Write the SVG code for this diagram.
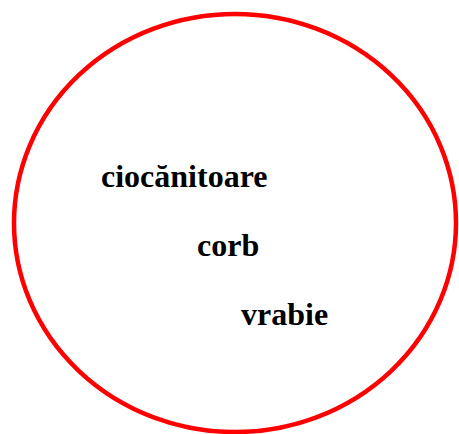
<svg xmlns="http://www.w3.org/2000/svg" width="459" height="434" viewBox="0 0 459 434">
<style>
text{font-family:'Liberation Serif','Times New Roman',Times,serif;font-weight:bold;font-size:32px;fill:#000}
</style>
<rect width="459" height="434" fill="#fff"/>
<g id="set">
<ellipse cx="235" cy="223" rx="221" ry="209" fill="none" stroke="#ff0000" stroke-width="4.5"/>
</g>
<g id="ciocanitoare"><text x="101" y="187" font-family="Liberation Serif, serif">ciocănitoare</text></g>
<g id="corb"><text x="197" y="256" font-family="Liberation Serif, serif">corb</text></g>
<g id="vrabie"><text x="241" y="325" font-family="Liberation Serif, serif">vrabie</text></g>
</svg>
